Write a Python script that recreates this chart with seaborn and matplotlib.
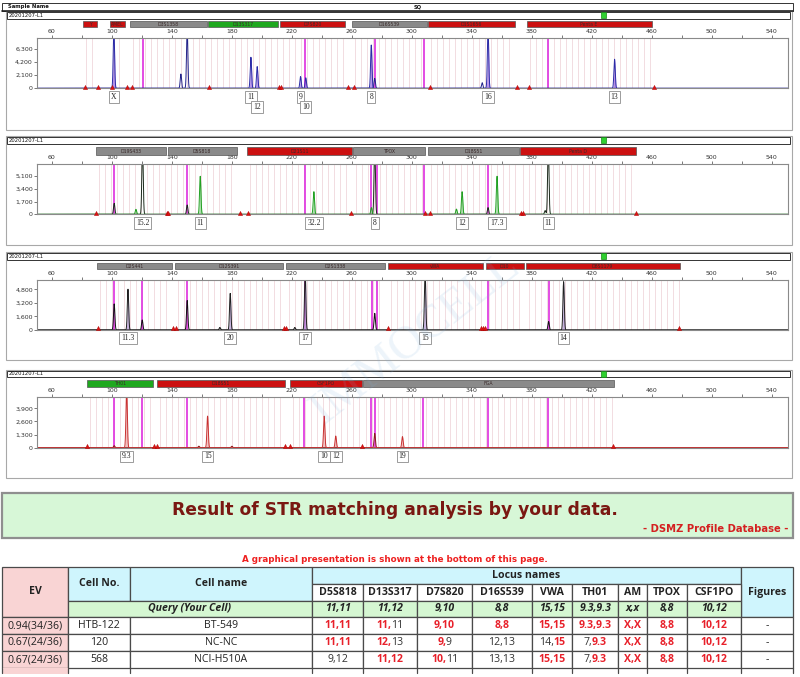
import numpy as np
import pandas as pd
import matplotlib
matplotlib.use("Agg")
import matplotlib.pyplot as plt
import seaborn as sns
from matplotlib.patches import Rectangle
from matplotlib.transforms import blended_transform_factory
from matplotlib.ticker import FuncFormatter, MultipleLocator

sns.set_theme(style="white")
plt.rcParams['font.family'] = ['DejaVu Sans']

# ======================= DATA =======================
# ---- Panel 1 (blue dye) ----
p1_main_pos = [101.3, 192.7, 196.9, 225.8, 229.3, 273.0, 350.9, 435.3]
p1_main_h = [9500, 5000, 3500, 1900, 1700, 7000, 9500, 4700]
p1_oth_pos = [146.0, 150.2, 275.3, 347.0]
p1_oth_h = [2300, 9500, 1600, 900]
p1_mag = [120.4, 228.9, 275.3, 308.0, 390.9]
p1_tri = [81.8, 90.5, 100.0, 110.2, 113.5, 164.9, 211.5, 212.5, 257.8, 261.8, 312.2, 370.0, 378.0, 461.5]
p1_lab_pos = [101.3, 192.7, 196.9, 225.8, 229.3, 273.0, 350.9, 435.3]
p1_lab_txt = ['X', '11', '12', '9', '10', '8', '16', '13']
p1_lab_row = [0, 0, 1, 0, 1, 0, 0, 0]
p1_loc_start = [80.7, 98.7, 112.0, 164.0, 212.0, 260.0, 310.7, 376.7]
p1_loc_end = [90.0, 108.7, 163.3, 210.7, 255.3, 310.0, 368.7, 460.0]
p1_loc_name = ['Y', 'AMEL', 'D3S1358', 'D13S317', 'D7S820', 'D16S539', 'D1S1656', 'Penta E']
p1_loc_col = ['r', 'r', 'k', 'g', 'r', 'k', 'r', 'r']
p1_yticks = [0, 2100, 4200, 6300]

# ---- Panel 2 (green dye) ----
p2_main_pos = [116.0, 158.9, 234.7, 273.1, 329.8, 333.6, 356.9]
p2_main_h = [670, 5100, 3040, 900, 700, 3040, 5100]
p2_oth_pos = [101.5, 120.4, 150.2, 275.3, 350.9, 389.0, 391.1]
p2_oth_h = [1470, 9500, 1250, 9500, 900, 500, 9500]
p2_mag = [101.5, 150.2, 228.9, 273.1, 277.1, 308.0, 350.9]
p2_tri = [89.3, 136.4, 137.5, 185.3, 190.9, 259.8, 308.7, 312.2, 372.9, 373.9, 449.3]
p2_lab_pos = [120.4, 158.9, 234.7, 275.3, 333.6, 356.9, 391.1]
p2_lab_txt = ['15.2', '11', '32.2', '8', '12', '17.3', '11']
p2_lab_row = [0, 0, 0, 0, 0, 0, 0]
p2_loc_start = [89.3, 137.1, 190.2, 260.9, 310.9, 372.4]
p2_loc_end = [135.8, 183.1, 260.2, 308.7, 371.5, 449.8]
p2_loc_name = ['D19S433', 'D5S818', 'D21S11', 'TPOX', 'D18S51', 'Penta D']
p2_loc_col = ['k', 'k', 'r', 'k', 'k', 'r']
p2_yticks = [0, 1700, 3400, 5100]

# ---- Panel 3 (black dye) ----
p3_main_pos = [110.7, 178.9, 228.9, 308.9, 401.3]
p3_main_h = [4820, 4340, 7000, 7000, 5700]
p3_oth_pos = [101.5, 120.2, 150.2, 172.0, 222.0, 275.3, 391.3]
p3_oth_h = [3080, 1185, 3480, 300, 300, 1970, 1000]
p3_mag = [101.5, 120.2, 150.2, 228.9, 273.5, 277.1, 350.9, 391.3]
p3_tri = [90.4, 140.9, 142.4, 214.9, 215.8, 284.4, 346.5, 347.5, 349.0, 478.2]
p3_lab_pos = [110.7, 178.9, 228.9, 308.9, 401.3]
p3_lab_txt = ['11.3', '20', '17', '15', '14']
p3_lab_row = [0, 0, 0, 0, 0]
p3_loc_start = [90.0, 142.0, 216.0, 284.0, 349.3, 376.0]
p3_loc_end = [140.0, 214.0, 282.0, 347.3, 374.7, 478.7]
p3_loc_name = ['D2S441', 'D12S391', 'D2S1338', 'vWA', 'D10', 'D8S1179']
p3_loc_col = ['k', 'k', 'k', 'r', 'r', 'r']
p3_yticks = [0, 1600, 3200, 4800]

# ---- Panel 4 (red dye) ----
p4_main_pos = [109.8, 163.8, 241.6, 249.3, 293.8]
p4_main_h = [6000, 3140, 3140, 1160, 1100]
p4_oth_pos = [101.5, 275.3, 158.0, 180.0]
p4_oth_h = [200, 1420, 150, 150]
p4_mag = [101.5, 120.2, 150.2, 228.2, 272.7, 275.3, 307.6, 350.7, 390.9]
p4_tri = [83.1, 128.0, 129.8, 215.3, 219.1, 267.1, 434.2]
p4_lab_pos = [109.8, 163.8, 241.6, 249.3, 293.8]
p4_lab_txt = ['9.3', '15', '10', '12', '19']
p4_lab_row = [0, 0, 0, 0, 0]
p4_loc_start = [83.3, 130.0, 218.7, 267.3]
p4_loc_end = [127.3, 215.3, 266.7, 434.7]
p4_loc_name = ['TH01', 'D18S51', 'CSF1PO', 'FGA']
p4_loc_col = ['g', 'r', 'r', 'k']
p4_yticks = [0, 1300, 2600, 3900]

x_ticks = [60, 100, 140, 180, 220, 260, 300, 340, 380, 420, 460, 500, 540]

# ---- Table ----
loci = ['D5S818', 'D13S317', 'D7S820', 'D16S539', 'VWA', 'TH01', 'AM', 'TPOX', 'CSF1PO']
query = ['11,11', '11,12', '9,10', '8,8', '15,15', '9.3,9.3', 'x,x', '8,8', '10,12']
ev = ['0.94(34/36)', '0.67(24/36)', '0.67(24/36)']
cell_no = ['HTB-122', '120', '568']
cell_name = ['BT-549', 'NC-NC', 'NCI-H510A']
row1 = ['11,11', '11,11', '9,10', '8,8', '15,15', '9.3,9.3', 'X,X', '8,8', '10,12']
row2 = ['11,11', '12,13', '9,9', '12,13', '14,15', '7,9.3', 'X,X', '8,8', '10,12']
row3 = ['9,12', '11,12', '10,11', '13,13', '15,15', '7,9.3', 'X,X', '8,8', '10,12']
figures = ['-', '-', '-']

# ======================= FIGURE =======================
W, H = 800, 677
fig = plt.figure(figsize=(W / 100, H / 100), dpi=100)
fig.patch.set_facecolor('white')
ov = fig.add_axes([0, 0, 1, 1])
ov.set_xlim(0, W)
ov.set_ylim(H, 0)
ov.axis('off')

LOC_COL = {'r': '#cc1010', 'g': '#1ea81e', 'k': '#8a8a8a'}

# top header
ov.add_patch(Rectangle((2, 2.5), 791, 8, fc='white', ec='#333', lw=0.7))
ov.plot([2, 793], [10.5, 10.5], color='#222', lw=1.2)
ov.text(8, 6.6, 'Sample Name', fontsize=3.8, fontweight='bold', va='center', color='#111')
ov.text(414, 6.6, 'SQ', fontsize=3.8, fontweight='bold', va='center', color='#111')

panels = [
    dict(top=38.0, bot=88.3, ymax=8100, yt=p1_yticks, mp=p1_main_pos, mh=p1_main_h, op=p1_oth_pos,
         oh=p1_oth_h, mag=p1_mag, tri=p1_tri, lp=p1_lab_pos, lt=p1_lab_txt, lr=p1_lab_row,
         ls=p1_loc_start, le=p1_loc_end, ln=p1_loc_name, lc=p1_loc_col,
         cm='#2b2ba6', cf='#a77be6', co='#22228a', bar=(20.7, 27.3), laby=[97, 107], hdr=12.0, fb=130),
    dict(top=164.3, bot=214.3, ymax=6700, yt=p2_yticks, mp=p2_main_pos, mh=p2_main_h, op=p2_oth_pos,
         oh=p2_oth_h, mag=p2_mag, tri=p2_tri, lp=p2_lab_pos, lt=p2_lab_txt, lr=p2_lab_row,
         ls=p2_loc_start, le=p2_loc_end, ln=p2_loc_name, lc=p2_loc_col,
         cm='#22a022', cf='#9ad89a', co='#1c2a1c', bar=(147.3, 155.0), laby=[223], hdr=137.0, fb=245),
    dict(top=280.0, bot=330.0, ymax=5900, yt=p3_yticks, mp=p3_main_pos, mh=p3_main_h, op=p3_oth_pos,
         oh=p3_oth_h, mag=p3_mag, tri=p3_tri, lp=p3_lab_pos, lt=p3_lab_txt, lr=p3_lab_row,
         ls=p3_loc_start, le=p3_loc_end, ln=p3_loc_name, lc=p3_loc_col,
         cm='#202020', cf='#b9a0d8', co='#111111', bar=(262.7, 269.3), laby=[338], hdr=253.0, fb=360),
    dict(top=397.3, bot=447.7, ymax=5000, yt=p4_yticks, mp=p4_main_pos, mh=p4_main_h, op=p4_oth_pos,
         oh=p4_oth_h, mag=p4_mag, tri=p4_tri, lp=p4_lab_pos, lt=p4_lab_txt, lr=p4_lab_row,
         ls=p4_loc_start, le=p4_loc_end, ln=p4_loc_name, lc=p4_loc_col,
         cm='#c83030', cf='#f2b6b6', co='#8b1a1a', bar=(380.0, 387.3), laby=[456.5], hdr=370.5, fb=478),
]

grid = np.linspace(50, 551, 5001)


def peak_trace(pos, hts, sigma=0.45):
    y = np.zeros_like(grid)
    for p, h in zip(pos, hts):
        y += h * np.exp(-0.5 * ((grid - p) / sigma) ** 2)
    return y


for P in panels:
    t, b = P['top'], P['bot']
    # frame + header strip
    ov.add_patch(Rectangle((6, P['hdr'] - 1), 786, P['fb'] - P['hdr'] + 1, fc='none', ec='#a8a8a8', lw=0.8))
    ov.add_patch(Rectangle((7, P['hdr']), 783, 6.5, fc='white', ec='#333', lw=0.7))
    ov.text(8.5, P['hdr'] + 3.4, '20201207-L1', fontsize=3.8, va='center', color='#111')
    ov.add_patch(Rectangle((600.5, P['hdr'] + 0.4), 5.5, 5.7, fc='#2fd02f', ec='#168a16', lw=0.5))

    ax = fig.add_axes([37 / W, 1 - b / H, 751 / W, (b - t) / H])
    ax.set_facecolor('none')
    bt = blended_transform_factory(ax.transData, ax.transAxes)

    # bins within loci
    for s, e in zip(P['ls'], P['le']):
        ax.vlines(np.arange(s + 2, e, 4.0), 0, 1, transform=bt, color='#efd3d8', lw=0.55, zorder=0.5)
    ax.vlines(P['mag'], 0, 1, transform=bt, color='#e03ee0', lw=1.3, zorder=1)

    ym = peak_trace(P['mp'], P['mh'])
    yo = peak_trace(P['op'], P['oh'])
    ax.fill_between(grid, 0, ym, color=P['cf'], alpha=0.8, lw=0, zorder=1.5)
    sns.lineplot(x=grid, y=yo, ax=ax, color=P['co'], lw=0.7, estimator=None, errorbar=None, zorder=2)
    sns.lineplot(x=grid, y=ym, ax=ax, color=P['cm'], lw=0.7, estimator=None, errorbar=None, zorder=2.2)
    sns.scatterplot(x=P['tri'], y=[P['ymax'] * 0.035] * len(P['tri']), ax=ax, marker='^', s=9,
                    color='#dd1111', edgecolor='#aa0000', linewidth=0.3, clip_on=False, zorder=3, legend=False)

    ax.set_xlim(50, 551)
    ax.set_ylim(0, P['ymax'])
    ax.set_xlabel('')
    ax.set_ylabel('')
    ax.set_xticks(x_ticks)
    ax.xaxis.set_minor_locator(MultipleLocator(20))
    ax.set_yticks(P['yt'])
    ax.yaxis.set_major_formatter(FuncFormatter(lambda v, _: f'{int(v):,}'))
    ax.tick_params(axis='x', which='both', top=True, bottom=False, labeltop=True, labelbottom=False,
                   labelsize=4.5, length=2, width=0.5, pad=1, colors='#444', labelcolor='#333')
    ax.tick_params(axis='y', left=True, labelsize=4.5, length=2, width=0.5, pad=1, colors='#444',
                   labelcolor='#333')
    for sp in ax.spines.values():
        sp.set_color('#8a8a8a')
        sp.set_linewidth(0.8)

    # locus bars above the axis
    y0 = (b - P['bar'][1]) / (b - t)
    y1 = (b - P['bar'][0]) / (b - t)
    for s, e, n, c in zip(P['ls'], P['le'], P['ln'], P['lc']):
        ax.add_patch(Rectangle((s, y0), e - s, y1 - y0, transform=bt, clip_on=False,
                               fc=LOC_COL[c], ec='#555', lw=0.5))
        ax.text((s + e) / 2, (y0 + y1) / 2, n, transform=bt, ha='center', va='center',
                fontsize=3.3, color='#3a2a2a', clip_on=False)

    # allele call boxes
    for x, txt, r in zip(P['lp'], P['lt'], P['lr']):
        yy = (b - P['laby'][r]) / (b - t)
        ax.text(x, yy, txt, transform=bt, ha='center', va='center', fontsize=5.5,
                family='Liberation Serif', color='#222', clip_on=False,
                bbox=dict(boxstyle='square,pad=0.25', fc='white', ec='#8c8c8c', lw=0.6))

# watermark
fig.text(0.52, 0.5, 'IMMOCELL', rotation=38, fontsize=34, color='#7fb0dc', alpha=0.14,
         family='Liberation Serif', ha='center', va='center')

# ======================= RESULT BANNER =======================
ov.add_patch(Rectangle((2, 493), 791, 45, fc='#d7f7d7', ec='#8f8f8f', lw=1.6))
ov.text(395, 510, 'Result of STR matching analysis by your data.', fontsize=12.3, fontweight='bold',
        color='#7a1812', ha='center', va='center', family='DejaVu Sans')
ov.text(788, 529, '- DSMZ Profile Database -', fontsize=7.2, fontweight='bold', color='#d42020',
        ha='right', va='center', family='DejaVu Sans')
ov.text(395, 559, 'A graphical presentation is shown at the bottom of this page.', fontsize=6.3,
        fontweight='bold', color='#ee2020', ha='center', va='center', family='DejaVu Sans')

# ======================= TABLE =======================
cx = [2, 68, 130, 312, 363, 417, 472, 532, 572, 618, 647, 687, 741, 793]
ry = [567, 584, 601, 617, 634, 651, 668]
PINK, CYAN, GREEN = '#f9d4d4', '#cff5fd', '#d5f7d2'
EC = '#4a4a4a'
FS = 7.6
FAM = 'Open Sans'
RED, DARK = '#e8202a', '#333'


def cell(x0, x1, y0, y1, fc):
    ov.add_patch(Rectangle((x0, y0), x1 - x0, y1 - y0, fc=fc, ec=EC, lw=0.9))


def ctext(x, y, s, **kw):
    d = dict(fontsize=FS, ha='center', va='center', color='#222', family=FAM)
    d.update(kw)
    ov.text(x, y, s, **d)


cell(cx[0], cx[1], ry[0], ry[3], PINK)
ctext((cx[0] + cx[1]) / 2, (ry[0] + ry[3]) / 2, 'EV', fontweight='bold')
cell(cx[1], cx[2], ry[0], ry[2], CYAN)
ctext((cx[1] + cx[2]) / 2, (ry[0] + ry[2]) / 2, 'Cell No.', fontweight='bold')
cell(cx[2], cx[3], ry[0], ry[2], CYAN)
ctext((cx[2] + cx[3]) / 2, (ry[0] + ry[2]) / 2, 'Cell name', fontweight='bold')
cell(cx[1], cx[3], ry[2], ry[3], GREEN)
ctext((cx[1] + cx[3]) / 2, (ry[2] + ry[3]) / 2, 'Query (Your Cell)', fontweight='bold', style='italic')
cell(cx[3], cx[12], ry[0], ry[1], CYAN)
ctext((cx[3] + cx[12]) / 2, (ry[0] + ry[1]) / 2, 'Locus names', fontweight='bold')
cell(cx[12], cx[13], ry[0], ry[3], CYAN)
ctext((cx[12] + cx[13]) / 2, (ry[0] + ry[3]) / 2, 'Figures', fontweight='bold')
for i, (name, q) in enumerate(zip(loci, query)):
    x0, x1 = cx[3 + i], cx[4 + i]
    cell(x0, x1, ry[1], ry[2], 'white')
    ctext((x0 + x1) / 2, (ry[1] + ry[2]) / 2, name, fontweight='bold')
    cell(x0, x1, ry[2], ry[3], GREEN)
    ctext((x0 + x1) / 2, (ry[2] + ry[3]) / 2, q, fontweight='bold', style='italic')

renderer = fig.canvas.get_renderer()


def rich(x, y, parts):
    # all parts share one style -> a single text
    if len({(c, w) for _, c, w in parts}) == 1:
        ctext(x, y, ''.join(s for s, _, _ in parts), color=parts[0][1], fontweight=parts[0][2])
        return
    texts = [ov.text(0, y, s, color=c, fontweight=w, fontsize=FS, family=FAM, ha='left', va='center')
             for s, c, w in parts]
    widths = [tx.get_window_extent(renderer).width - (0.6 if tx.get_text().endswith(',') else 0)
              for tx in texts]
    cur = x - sum(widths) / 2
    for tx, wd in zip(texts, widths):
        tx.set_x(cur)
        cur += wd


def match_parts(val, q):
    a = val.split(',')
    rem = [s.lower() for s in q.split(',')]
    parts = []
    for k, s in enumerate(a):
        hit = s.lower() in rem
        if hit:
            rem.remove(s.lower())
        txt = s + (',' if k < len(a) - 1 else '')
        parts.append((txt, RED if hit else DARK, 'bold' if hit else 'normal'))
    return parts


for r, vals in enumerate([row1, row2, row3]):
    y0, y1 = ry[3 + r], ry[4 + r]
    ym = (y0 + y1) / 2
    cell(cx[0], cx[1], y0, y1, PINK)
    ctext((cx[0] + cx[1]) / 2, ym, ev[r])
    cell(cx[1], cx[2], y0, y1, 'white')
    ctext((cx[1] + cx[2]) / 2, ym, cell_no[r])
    cell(cx[2], cx[3], y0, y1, 'white')
    ctext((cx[2] + cx[3]) / 2, ym, cell_name[r])
    for i, v in enumerate(vals):
        x0, x1 = cx[3 + i], cx[4 + i]
        cell(x0, x1, y0, y1, 'white')
        rich((x0 + x1) / 2, ym, match_parts(v, query[i]))
    cell(cx[12], cx[13], y0, y1, 'white')
    ctext((cx[12] + cx[13]) / 2, ym, figures[r])

# partial next row (cut off at the image edge)
ov.add_patch(Rectangle((cx[0], ry[6]), cx[1] - cx[0], 6, fc=PINK, ec='none'))
for x in cx:
    ov.plot([x, x], [ry[6], 673], color=EC, lw=0.9)

fig.savefig('out.png', dpi=100, facecolor='white')
